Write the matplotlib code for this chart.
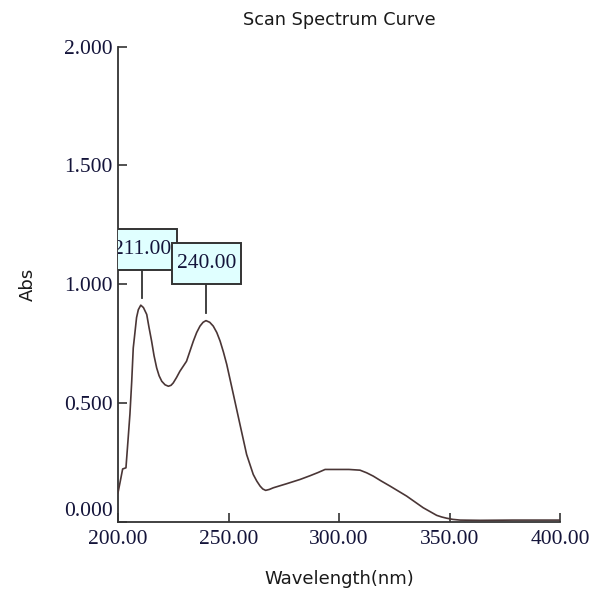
import matplotlib
matplotlib.use("Agg")
import matplotlib.pyplot as plt
import matplotlib.transforms as mtransforms
from matplotlib.patches import Rectangle
import numpy as np

# ── Data ────────────────────────────────────────────────────────────────────
wavelength = [200.0, 201.0, 202.1, 203.6, 204.5, 205.4, 206.2, 206.9, 207.4,
              208.4, 209.2, 210.3, 211.5, 213.0, 214.0, 215.2, 216.3, 217.5,
              218.6, 219.8, 221.3, 222.8, 224.0, 225.0, 226.5, 228.0, 231.0,
              234.1, 235.6, 237.1, 238.5, 239.8, 241.5, 243.1, 244.7, 246.2,
              247.7, 249.2, 252.2, 255.2, 258.2, 261.2, 262.8, 264.3, 265.5,
              266.8, 268.5, 270.3, 276.3, 282.4, 287.0, 290.5, 293.7, 299.7,
              304.5, 309.5, 312.5, 315.5, 319.0, 323.1, 330.6, 338.1, 344.2,
              346.5, 348.7, 351.5, 354.8, 363.8, 378.7, 400.0]
absorbance = [0.123, 0.170, 0.223, 0.228, 0.340, 0.454, 0.590, 0.732, 0.774,
              0.860, 0.893, 0.912, 0.902, 0.873, 0.820, 0.761, 0.700, 0.648,
              0.615, 0.592, 0.577, 0.571, 0.575, 0.585, 0.608, 0.634, 0.676,
              0.761, 0.797, 0.824, 0.840, 0.847, 0.840, 0.824, 0.797, 0.761,
              0.715, 0.663, 0.537, 0.410, 0.284, 0.200, 0.172, 0.151, 0.139,
              0.133, 0.137, 0.144, 0.161, 0.179, 0.195, 0.208, 0.221, 0.221,
              0.221, 0.218, 0.207, 0.193, 0.173, 0.151, 0.109, 0.060, 0.028,
              0.021, 0.016, 0.011, 0.008, 0.007, 0.008, 0.008]
peak_labels = [211.0, 240.0]
x_ticks = [200, 250, 300, 350, 400]
y_ticks = [0.0, 0.5, 1.0, 1.5, 2.0]

SERIF = "Liberation Serif"
SANS = "DejaVu Sans"
TXT = "#14143a"
AXC = "#333333"

fig = plt.figure(figsize=(5.93, 5.91), dpi=100)
ax = fig.add_axes([118 / 593, 1 - 522 / 591, 442 / 593, 475.5 / 591])

ax.plot(wavelength, absorbance, color="#4a3636", linewidth=1.2, zorder=3)

ax.set_xlim(200, 400)
ax.set_ylim(0, 2.0)
ax.set_xticks(x_ticks)
ax.set_yticks(y_ticks)
ax.set_xticklabels([f"{v:.2f}" for v in x_ticks], family=SERIF, fontsize=15.5, color=TXT)
ax.set_yticklabels([f"{v:.3f}" for v in y_ticks], family=SERIF, fontsize=15.5, color=TXT)
ax.tick_params(direction="in", length=6.5, width=1.2, color=AXC)
ax.tick_params(axis="x", pad=6)
ax.tick_params(axis="y", pad=4)

# bottom y label sits a little above its tick
zero_lbl = ax.get_yticklabels()[0]
zero_lbl.set_transform(zero_lbl.get_transform() +
                       mtransforms.ScaledTranslation(0, 13 / 100, fig.dpi_scale_trans))

for side in ("top", "right"):
    ax.spines[side].set_visible(False)
for side in ("left", "bottom"):
    ax.spines[side].set_color(AXC)
    ax.spines[side].set_linewidth(1.3)

fig.text((118 + 442 / 2) / 593, 1 - 20 / 591, "Scan Spectrum Curve", family=SANS,
         fontsize=12.7, color="#1a1a1a", ha="center", va="center")
ax.set_xlabel("Wavelength(nm)", family=SANS, fontsize=13, color="#1a1a1a", labelpad=15)
ax.set_ylabel("Abs", family=SANS, fontsize=13, color="#1a1a1a", labelpad=19)

# peak marker boxes
box_w, box_h = 31.0, 0.173
for i, wl in enumerate(peak_labels):
    peak = np.interp(wl, wavelength, absorbance)
    bottom = peak + 0.153
    ax.plot([wl, wl], [peak + 0.034, bottom], color=AXC, linewidth=1.3, zorder=4)
    rect = Rectangle((wl - box_w / 2, bottom), box_w, box_h, facecolor="#e0ffff",
                     edgecolor=AXC, linewidth=1.4, zorder=5 + i, clip_on=True)
    ax.add_patch(rect)
    ax.text(wl, bottom + box_h / 2, f"{wl:.2f}", family=SERIF, fontsize=15.5,
            color=TXT, ha="center", va="center", zorder=5 + i, clip_on=True)

fig.savefig("out.png", dpi=100)
